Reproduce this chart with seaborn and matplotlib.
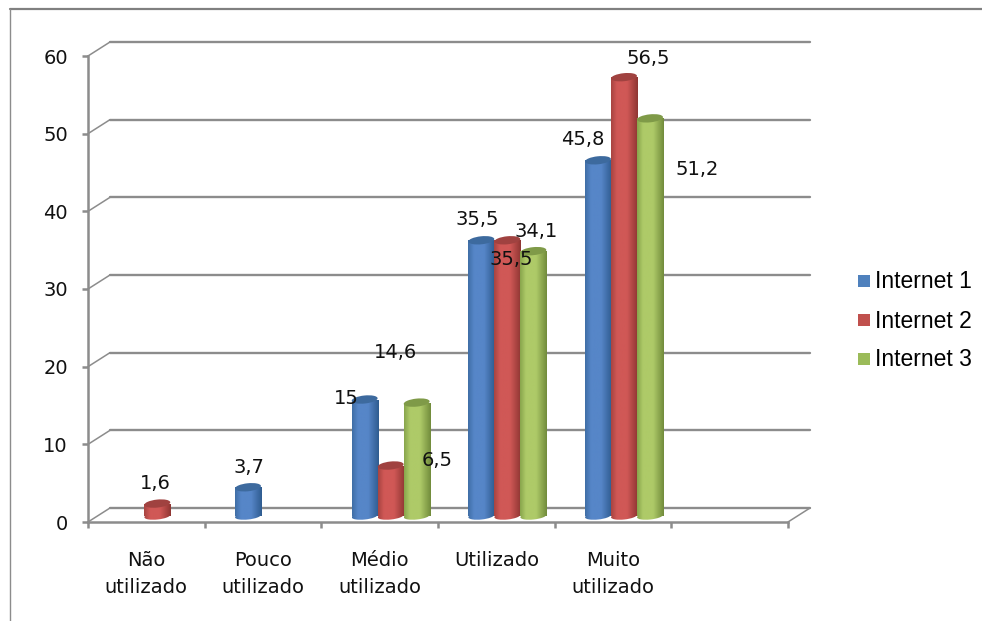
import matplotlib
matplotlib.use("Agg")
import numpy as np
import pandas as pd
import seaborn as sns
import matplotlib.pyplot as plt
from matplotlib.lines import Line2D
from matplotlib.patches import Ellipse, Rectangle
from matplotlib.transforms import IdentityTransform

categories = ["Não\nutilizado", "Pouco\nutilizado", "Médio\nutilizado", "Utilizado", "Muito\nutilizado", " "]
series_names = ["Internet 1", "Internet 2", "Internet 3"]
internet_1 = [np.nan, 3.7, 15, 35.5, 45.8, np.nan]
internet_2 = [1.6, np.nan, 6.5, 35.5, 56.5, np.nan]
internet_3 = [np.nan, np.nan, 14.6, 34.1, 51.2, np.nan]

W, H = 982, 621
GRID = "#8c8c8c"
FLAT = ["#4f81bd", "#c0504d", "#9bbb59"]
# left edge, highlight, right edge and cap colour of each cylinder
SHADES = [
    ("#3f6ea6", "#5686c8", "#2f5c90", "#3d6a9e"),
    ("#a84441", "#d05856", "#8f3633", "#a04240"),
    ("#88a54c", "#aeca68", "#728c3c", "#7f9a48"),
]
# pixel offsets of the value labels from the top of their bar: (series, category)
LABEL_OFFSETS = {
    (1, 0): (-2, 20), (0, 1): (1, 20),
    (0, 2): (-18, 1), (1, 2): (46, 5), (2, 2): (-21, 50),
    (0, 3): (-4, 21), (1, 3): (4, -19), (2, 3): (3, 20),
    (0, 4): (-15, 21), (1, 4): (24, 19), (2, 4): (47, -51),
}

df = pd.DataFrame({
    "categoria": categories * 3,
    "serie": np.repeat(series_names, len(categories)),
    "valor": internet_1 + internet_2 + internet_3,
})

sns.set_theme(style="white")
plt.rcParams["font.family"] = ["DejaVu Sans"]
fig = plt.figure(figsize=(W / 100, H / 100), dpi=100, facecolor="white")


def axes_box(left, right, top, bottom):
    return [left / W, 1 - bottom / H, (right - left) / W, (bottom - top) / H]


# the chart frame only shows along its top and left sides
fig.add_artist(Line2D([9.5 / W, 1], [1 - 9 / H, 1 - 9 / H], color="#808080", lw=1.6))
fig.add_artist(Line2D([9.5 / W, 9.5 / W], [1 - 9 / H, 0], color="#8c8c8c", lw=1.0))

# front plane: value axis, category axis and the receding gridlines
front = fig.add_axes(axes_box(88, 788, 56, 522), zorder=1, facecolor="none")
front.set_xlim(0, 6)
front.set_ylim(0, 60)
dx, dy = 22 / (700 / 6), 14 / (466 / 60)
for v in range(0, 61, 10):
    front.plot([0, dx], [v, v + dy], color=GRID, lw=1.1, clip_on=False, zorder=1)
    front.plot([dx, 6 + dx], [v + dy, v + dy], color=GRID, lw=1.7, clip_on=False, zorder=1)
front.plot([6, 6 + dx], [0, dy], color=GRID, lw=1.1, clip_on=False, zorder=1)
for name in ("top", "right"):
    front.spines[name].set_visible(False)
for name in ("left", "bottom"):
    front.spines[name].set_color(GRID)
    front.spines[name].set_linewidth(1.8)
front.set_yticks(range(0, 61, 10))
front.set_xticks(range(7))
front.set_xticklabels([])
front.set_xticks(np.arange(6) + 0.5, labels=categories, minor=True)
front.tick_params(axis="both", which="major", length=4.5, width=1.8, color=GRID, labelsize=14,
                  labelcolor="#111111", left=True, bottom=True, pad=10)
front.tick_params(axis="x", which="minor", length=0, labelsize=14, labelcolor="#111111", pad=21)
for lab in front.get_xticklabels(minor=True):
    lab.set_linespacing(1.5)

# bar plane, set back half way between the front edge and the rear wall
ax = fig.add_axes(axes_box(99, 799, 50, 516), zorder=2, facecolor="none")
sns.barplot(data=df, x="categoria", y="valor", hue="serie", order=categories,
            hue_order=series_names, palette=FLAT, width=0.669, gap=0, dodge=True,
            legend=False, ax=ax)
ax.set_xlim(-0.5, 5.5)
ax.set_ylim(0, 60)
ax.axis("off")


def cylinder_shading(left, mid, right):
    stops = [0, 0.22, 0.6, 1]
    cols = [matplotlib.colors.to_rgb(c) for c in (left, mid, mid, right)]
    t = np.linspace(0, 1, 64)
    return np.stack([np.interp(t, stops, [c[i] for c in cols]) for i in range(3)], axis=1)[None, :, :]


for patch in list(ax.patches):
    h = patch.get_height()
    if not np.isfinite(h) or h == 0:
        continue
    w = patch.get_width()
    x0 = patch.get_x()
    centre = x0 + w / 2
    cat = int(round(centre))
    ser = int(round((centre - cat) / w)) + 1
    left, mid, right, cap = SHADES[ser]
    shade = cylinder_shading(left, mid, right)
    patch.set_visible(False)

    px_base = ax.transData.transform((centre, 0))
    px_top = ax.transData.transform((centre, h))
    px_w = ax.transData.transform((x0 + w, 0))[0] - ax.transData.transform((x0, 0))[0]

    body = ax.imshow(shade, extent=(x0, x0 + w, 0, h), aspect="auto", zorder=3 + ser,
                     interpolation="bilinear")
    body.set_clip_path(Rectangle((x0, 0), w, h, transform=ax.transData))

    # rounded foot of the cylinder, hanging below the baseline
    foot = Ellipse(px_base, px_w, 7, angle=6, transform=IdentityTransform())
    base = ax.imshow(shade, extent=(x0, x0 + w, -1, 1), aspect="auto", zorder=3 + ser,
                     interpolation="bilinear")
    base.set_clip_box(fig.bbox)
    base.set_clip_path(foot)

    ax.add_artist(Ellipse(px_top, px_w, 8, angle=6, transform=IdentityTransform(),
                          facecolor=cap, edgecolor="none", zorder=3.5 + ser))

    ox, oy = LABEL_OFFSETS[(ser, cat)]
    ax.annotate(f"{h:g}".replace(".", ","), (centre, h), xytext=(ox, oy), textcoords="offset pixels",
                ha="center", va="center", fontsize=14, color="#111111",
                annotation_clip=False, zorder=10)

ax.set_xlim(-0.5, 5.5)
ax.set_ylim(0, 60)

# legend placed by hand beside the plot
for name, colour, py in zip(series_names, FLAT, (281, 320, 359)):
    fig.add_artist(Rectangle((858 / W, 1 - (py + 6) / H), 12 / W, 12 / H, transform=fig.transFigure,
                             facecolor=colour, edgecolor="none"))
    fig.text(875 / W, 1 - (py + 1) / H, name, family="Liberation Sans", fontsize=16.5, color="black",
             ha="left", va="center")

fig.savefig("out.png", dpi=100)
